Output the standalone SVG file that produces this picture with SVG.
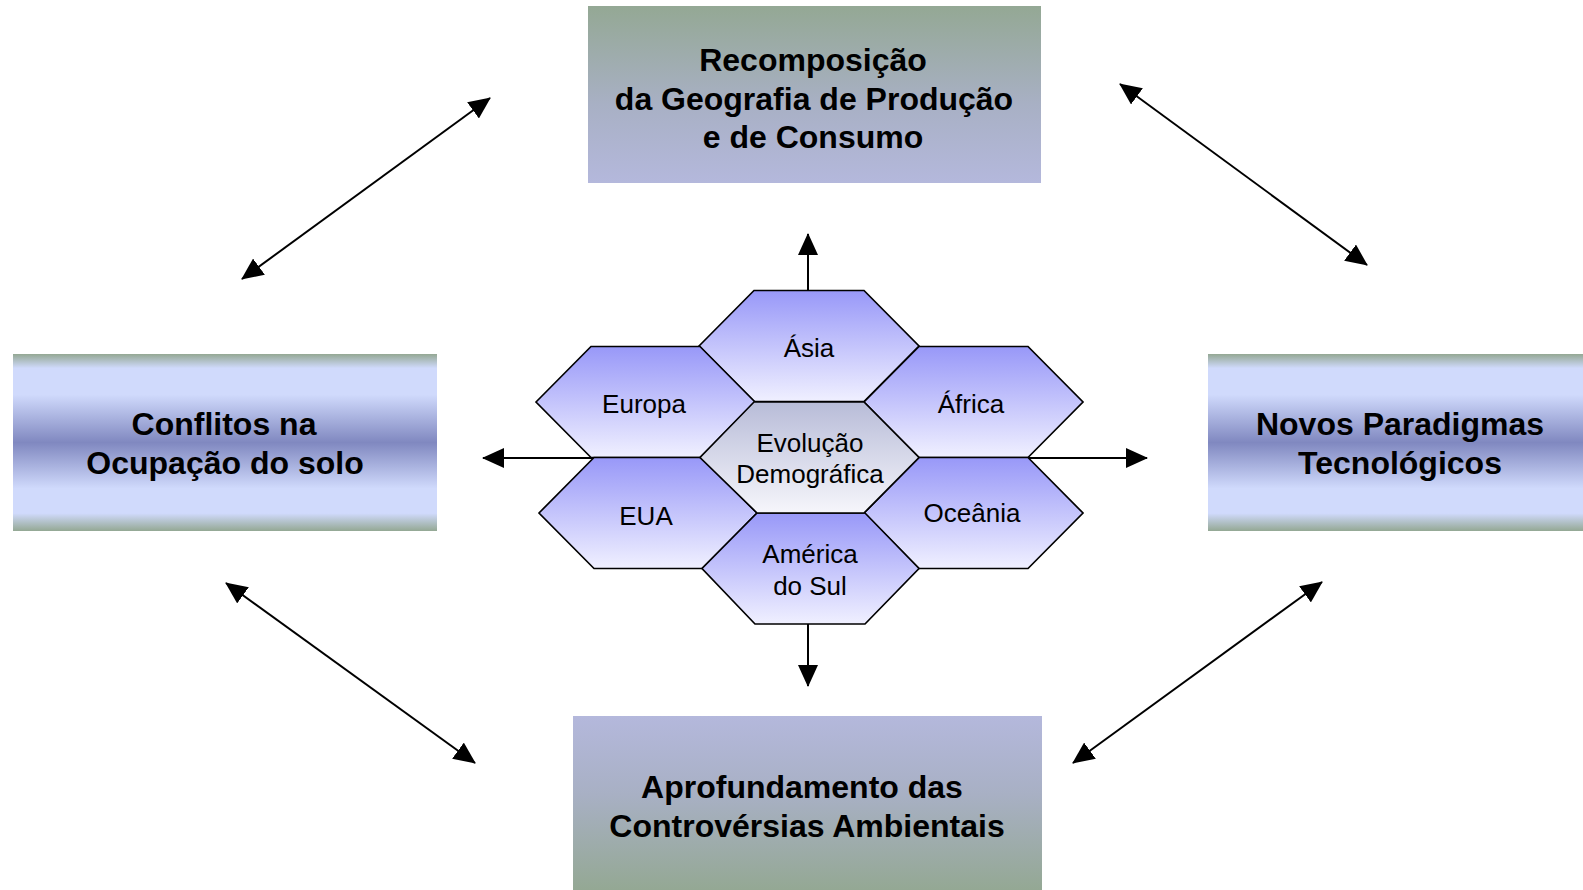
<svg xmlns="http://www.w3.org/2000/svg" width="1583" height="890" viewBox="0 0 1583 890">
  <style>
    .box-text { font-family: "Liberation Sans", Arial, sans-serif; font-weight: bold; font-size: 32px; fill: #000; text-anchor: middle; }
    .hex-text { font-family: "Liberation Sans", Arial, sans-serif; font-size: 26px; fill: #000; text-anchor: middle; }
    .hex { stroke: #000; stroke-width: 1.7; stroke-linejoin: miter; }
    .conn { stroke: #000; stroke-width: 2; fill: none; }
  </style>
  <defs>
    <linearGradient id="gTop" x1="0" y1="0" x2="0" y2="1">
      <stop offset="0" stop-color="#94a894"/>
      <stop offset="0.55" stop-color="#a8b0c4"/>
      <stop offset="1" stop-color="#b4b8dc"/>
    </linearGradient>
    <linearGradient id="gBottom" x1="0" y1="0" x2="0" y2="1">
      <stop offset="0" stop-color="#b4b8dc"/>
      <stop offset="0.45" stop-color="#a8b0c4"/>
      <stop offset="1" stop-color="#94a894"/>
    </linearGradient>
    <linearGradient id="gSide" x1="0" y1="0" x2="0" y2="1">
      <stop offset="0" stop-color="#94a894"/>
      <stop offset="0.08" stop-color="#d0dafc"/>
      <stop offset="0.23" stop-color="#d0dafc"/>
      <stop offset="0.5" stop-color="#8088c0"/>
      <stop offset="0.76" stop-color="#d0dafc"/>
      <stop offset="0.9" stop-color="#d0dafc"/>
      <stop offset="1" stop-color="#94a894"/>
    </linearGradient>
    <linearGradient id="gHex" x1="0" y1="0" x2="0" y2="1">
      <stop offset="0" stop-color="#9898f8"/>
      <stop offset="1" stop-color="#f0f0ff"/>
    </linearGradient>
    <linearGradient id="gHexC" x1="0" y1="0" x2="0" y2="1">
      <stop offset="0" stop-color="#b8bcd8"/>
      <stop offset="1" stop-color="#f6f6fb"/>
    </linearGradient>
    <marker id="ah" viewBox="0 0 22 20" refX="21" refY="10" markerWidth="22" markerHeight="20" markerUnits="userSpaceOnUse" orient="auto-start-reverse">
      <path d="M0,0 L22,10 L0,20 z" fill="#000"/>
    </marker>
  </defs>

  <rect width="1583" height="890" fill="#ffffff"/>

  <g id="connectors">
    <line class="conn" x1="242" y1="279" x2="490" y2="98" marker-start="url(#ah)" marker-end="url(#ah)"/>
    <line class="conn" x1="1120" y1="84" x2="1367" y2="265" marker-start="url(#ah)" marker-end="url(#ah)"/>
    <line class="conn" x1="226" y1="583" x2="475" y2="763" marker-start="url(#ah)" marker-end="url(#ah)"/>
    <line class="conn" x1="1322" y1="582" x2="1073" y2="763" marker-start="url(#ah)" marker-end="url(#ah)"/>
    <line class="conn" x1="808" y1="291" x2="808" y2="234" marker-end="url(#ah)"/>
    <line class="conn" x1="808" y1="624" x2="808" y2="686" marker-end="url(#ah)"/>
    <line class="conn" x1="593" y1="458" x2="483" y2="458" marker-end="url(#ah)"/>
    <line class="conn" x1="1028" y1="458" x2="1147" y2="458" marker-end="url(#ah)"/>
  </g>

  <g id="box-top">
    <rect x="588" y="6" width="453" height="177" fill="url(#gTop)"/>
    <text class="box-text" x="813" y="71">Recomposição</text>
    <text class="box-text" x="814" y="110">da Geografia de Produção</text>
    <text class="box-text" x="813" y="148">e de Consumo</text>
  </g>

  <g id="box-left">
    <rect x="13" y="354" width="424" height="177" fill="url(#gSide)"/>
    <text class="box-text" x="224" y="435">Conflitos na</text>
    <text class="box-text" x="225" y="474">Ocupação do solo</text>
  </g>

  <g id="box-right">
    <rect x="1208" y="354" width="375" height="177" fill="url(#gSide)"/>
    <text class="box-text" x="1400" y="435">Novos Paradigmas</text>
    <text class="box-text" x="1400" y="474">Tecnológicos</text>
  </g>

  <g id="box-bottom">
    <rect x="573" y="716" width="469" height="174" fill="url(#gBottom)"/>
    <text class="box-text" x="802" y="798">Aprofundamento das</text>
    <text class="box-text" x="807" y="837">Controvérsias Ambientais</text>
  </g>

  <g id="hex-asia">
    <polygon class="hex" fill="url(#gHex)" points="699,346 754,290.5 864,290.5 919,346 864,401.5 754,401.5"/>
    <text class="hex-text" x="809" y="357">Ásia</text>
  </g>
  <g id="hex-europa">
    <polygon class="hex" fill="url(#gHex)" points="536,402 591,346.5 700,346.5 755,402 700,457.5 591,457.5"/>
    <text class="hex-text" x="644" y="413">Europa</text>
  </g>
  <g id="hex-africa">
    <polygon class="hex" fill="url(#gHex)" points="864,402 919,346.5 1028,346.5 1083,402 1028,457.5 919,457.5"/>
    <text class="hex-text" x="971" y="413">África</text>
  </g>
  <g id="hex-eua">
    <polygon class="hex" fill="url(#gHex)" points="539,513 594,457.5 702,457.5 757,513 702,568.5 594,568.5"/>
    <text class="hex-text" x="646" y="525">EUA</text>
  </g>
  <g id="hex-oceania">
    <polygon class="hex" fill="url(#gHex)" points="864,513 919,457.5 1028,457.5 1083,513 1028,568.5 919,568.5"/>
    <text class="hex-text" x="972" y="522">Oceânia</text>
  </g>
  <g id="hex-america">
    <polygon class="hex" fill="url(#gHex)" points="702,568.5 757,513 865,513 919,568.5 865,624 755,624"/>
    <text class="hex-text" x="810" y="563">América</text>
    <text class="hex-text" x="810" y="595">do Sul</text>
  </g>
  <g id="hex-evolucao">
    <polygon class="hex" fill="url(#gHexC)" points="700,457.5 754,402 864,402 919,457.5 864,513 757,513"/>
    <text class="hex-text" x="810" y="452">Evolução</text>
    <text class="hex-text" x="810" y="483">Demográfica</text>
  </g>
</svg>
